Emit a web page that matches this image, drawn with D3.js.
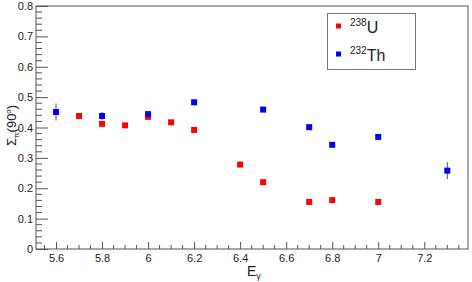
<!DOCTYPE html>
<html>
<head>
<meta charset="utf-8">
<script src="https://cdn.jsdelivr.net/npm/d3@7"></script>
<style>
  body { margin: 0; background: #fff; }
  text { font-family: "Liberation Sans", Arial, sans-serif; fill: #222; }
  .axis .domain { stroke: #555; }
  .axis line { stroke: #555; }
</style>
</head>
<body>
<script>
var w = 472, h = 282;
var frame = {left: 36, right: 468, top: 6, bottom: 249};

// 238U
var uE   = [5.7, 5.8, 5.9, 6.0, 6.1, 6.2, 6.4, 6.5, 6.7, 6.8, 7.0];
var uVal = [0.438, 0.412, 0.407, 0.435, 0.417, 0.392, 0.278, 0.220, 0.155, 0.161, 0.155];
var uErr = [0.005, 0.005, 0.005, 0.005, 0.005, 0.005, 0.005, 0.005, 0.005, 0.005, 0.005];
// 232Th
var thE   = [5.6, 5.8, 6.0, 6.2, 6.5, 6.7, 6.8, 7.0, 7.3];
var thVal = [0.451, 0.438, 0.444, 0.483, 0.459, 0.401, 0.343, 0.369, 0.258];
var thErr = [0.028, 0.013, 0.006, 0.005, 0.005, 0.005, 0.005, 0.005, 0.028];

var xTicks = [5.6, 5.8, 6.0, 6.2, 6.4, 6.6, 6.8, 7.0, 7.2];
var yTicks = [0, 0.1, 0.2, 0.3, 0.4, 0.5, 0.6, 0.7, 0.8];

var x = d3.scaleLinear().domain([5.513, 7.39]).range([frame.left, frame.right]);
var y = d3.scaleLinear().domain([0, 0.8]).range([frame.bottom, frame.top]);

var svg = d3.select('body').append('svg')
    .attr('width', w)
    .attr('height', h);

// frame
svg.append('rect')
  .attr('x', frame.left).attr('y', frame.top)
  .attr('width', frame.right - frame.left)
  .attr('height', frame.bottom - frame.top)
  .attr('fill', 'none').attr('stroke', '#555');

// minor ticks
var xMinor = d3.range(5.55, 7.39, 0.05).filter(function(v){
  return Math.abs(v*5 - Math.round(v*5)) > 1e-6;
});
svg.append('g').selectAll('line').data(xMinor).enter().append('line')
  .attr('x1', x).attr('x2', x)
  .attr('y1', frame.bottom).attr('y2', frame.bottom - 4)
  .attr('stroke', '#555');
var yMinor = d3.range(0.02, 0.8, 0.02).filter(function(v){
  return Math.abs(v*10 - Math.round(v*10)) > 1e-6;
});
svg.append('g').selectAll('line').data(yMinor).enter().append('line')
  .attr('y1', y).attr('y2', y)
  .attr('x1', frame.left).attr('x2', frame.left + 6)
  .attr('stroke', '#555');

// axes, ticks pointing into the frame
var xAxis = d3.axisBottom(x).tickValues(xTicks)
  .tickSize(-7).tickPadding(5)
  .tickFormat(function(d){ return +d.toFixed(1); });
svg.append('g').attr('class', 'x axis')
  .attr('transform', 'translate(0,' + frame.bottom + ')')
  .call(xAxis)
  .call(function(g){ g.select('.domain').remove(); })
  .selectAll('text').style('font-size', '11px');

var yAxis = d3.axisLeft(y).tickValues(yTicks)
  .tickSize(-12).tickPadding(3)
  .tickFormat(function(d){ return +d.toFixed(1); });
svg.append('g').attr('class', 'y axis')
  .attr('transform', 'translate(' + frame.left + ',0)')
  .call(yAxis)
  .call(function(g){ g.select('.domain').remove(); })
  .selectAll('text').style('font-size', '11px');

// axis titles
var xt = svg.append('text')
  .attr('x', 247).attr('y', 276)
  .style('font-size', '14px');
xt.append('tspan').text('E');
xt.append('tspan').attr('dy', 3).style('font-size', '9px').text('γ');

var yt = svg.append('text')
  .attr('transform', 'translate(16,' + 146 + ') rotate(-90)')
  .style('font-size', '13px');
yt.append('tspan').text('Σ');
yt.append('tspan').attr('dy', 3).style('font-size', '8px').text('π');
yt.append('tspan').attr('dy', -3).text('(90');
yt.append('tspan').attr('dy', -5).style('font-size', '8px').text('o');
yt.append('tspan').attr('dy', 5).text(')');

// data
function drawSeries(xs, vs, es, color) {
  var pts = xs.map(function(e, i){ return {e: e, v: vs[i], err: es[i]}; });
  var g = svg.append('g');
  g.selectAll('line').data(pts).enter().append('line')
    .attr('x1', function(d){ return x(d.e); })
    .attr('x2', function(d){ return x(d.e); })
    .attr('y1', function(d){ return y(d.v - d.err); })
    .attr('y2', function(d){ return y(d.v + d.err); })
    .attr('stroke', '#555').attr('stroke-width', 1);
  g.selectAll('rect').data(pts).enter().append('rect')
    .attr('x', function(d){ return x(d.e) - 3; })
    .attr('y', function(d){ return y(d.v) - 3; })
    .attr('width', 6).attr('height', 6)
    .attr('fill', color);
}
drawSeries(uE, uVal, uErr, '#f00');
drawSeries(thE, thVal, thErr, '#00f');

// legend
var lg = svg.append('g');
lg.append('rect')
  .attr('x', 327.5).attr('y', 13.5).attr('width', 88).attr('height', 56)
  .attr('fill', '#fff').attr('stroke', '#777');
var entries = [{sup: '238', name: 'U', color: '#f00'}, {sup: '232', name: 'Th', color: '#00f'}];
entries.forEach(function(d, i){
  var cy = 26 + i * 28;
  lg.append('rect').attr('x', 336).attr('y', cy - 2.5)
    .attr('width', 5).attr('height', 5).attr('fill', d.color);
  var t = lg.append('text').attr('x', 350).attr('y', cy + 7).style('font-size', '16px');
  t.append('tspan').attr('dy', -7).style('font-size', '10px').text(d.sup);
  t.append('tspan').attr('dy', 7).text(d.name);
});
</script>
</body>
</html>
